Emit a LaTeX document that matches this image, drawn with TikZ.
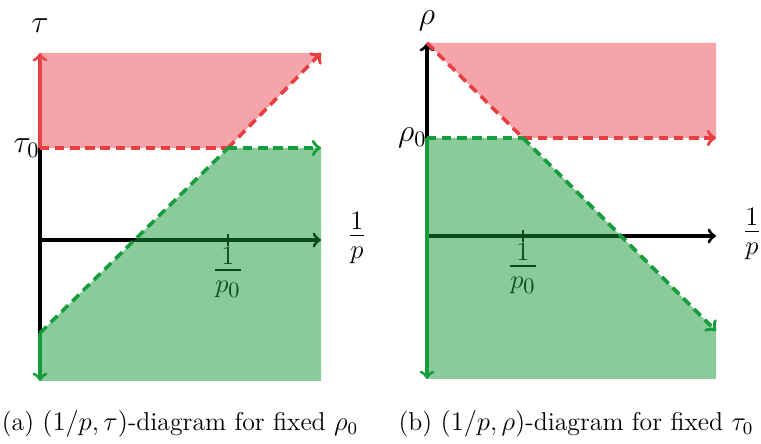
\documentclass[tikz,border=0pt]{standalone}
\usepackage{amsmath}

\definecolor{redline}{RGB}{232,62,66}
\definecolor{greenline}{RGB}{22,158,62}
\definecolor{redarea}{RGB}{235,76,86}
\definecolor{greenarea}{RGB}{23,151,55}

\tikzset{
  axis/.style={line width=1.4pt},
  bound/.style={line width=1.6pt,dash pattern=on 4.2pt off 2.6pt},
  region/.style={fill opacity=0.5},
  lbl/.style={inner sep=0pt,font=\Large},
  frac/.style={inner sep=0pt,font=\LARGE},
}

\begin{document}
\begin{tikzpicture}[x=0.45pt,y=0.45pt,>=to]
\useasboundingbox (0,0) rectangle (761,444);

% (a) tau against 1/p
\coordinate (aO) at (40,204);
\coordinate (aT) at (40,391);
\coordinate (aT0) at (40,296);
\coordinate (aB0) at (40,111);
\coordinate (aB) at (40,63);
\coordinate (aK) at (228,296);
\coordinate (aX) at (321,204);
\coordinate (aTR) at (321,391);
\coordinate (aMR) at (321,296);
\coordinate (aBR) at (321,63);
\coordinate (aTick) at (228,204);

\node[lbl] (tau) at (40,418) {$\tau$};
\node[lbl,anchor=east] (tau0) at (aT0) {$\tau_0$};
\node[frac] (ainv) at (357,206) {$\frac{1}{p}$};
\node[frac,anchor=north] (ap0) at ([yshift=-3pt]aTick) {$\frac{1}{p_0}$};

\draw[axis,->] (aO) -- (aX);
\draw[axis] (aT0) -- (aB0);
\draw[axis,redline,->] (aT0) -- (aT);
\draw[axis,greenline,->] (aB0) -- (aB);
\draw[line width=0.8pt] (aTick) ++(0,6) -- ++(0,-12);

\fill[redarea,region] (aT) -- (aTR) -- (aK) -- (aT0) -- cycle;
\fill[greenarea,region] (aB0) -- (aK) -- (aMR) -- (aBR) -- (aB) -- cycle;

\draw[bound,redline] (aT0) -- (aK);
\draw[bound,redline,->] (aK) -- (aTR);
\draw[bound,greenline] (aB0) -- (aK);
\draw[bound,greenline,->] (aK) -- (aMR);

% (b) rho against 1/p
\coordinate (bO) at (427,208);
\coordinate (bT) at (427,401);
\coordinate (bR0) at (427,306);
\coordinate (bB) at (427,65);
\coordinate (bK) at (523,306);
\coordinate (bX) at (716,208);
\coordinate (bTR) at (716,401);
\coordinate (bMR) at (716,306);
\coordinate (bLR) at (716,113);
\coordinate (bBR) at (716,65);
\coordinate (bTick) at (523,208);

\node[lbl] (rho) at (427,423) {$\rho$};
\node[lbl,anchor=east] (rho0) at (bR0) {$\rho_0$};
\node[frac] (binv) at (752,210) {$\frac{1}{p}$};
\node[frac,anchor=north] (bp0) at ([yshift=-3pt]bTick) {$\frac{1}{p_0}$};

\draw[axis,->] (bO) -- (bX);
\draw[axis,->] (bR0) -- (bT);
\draw[axis,greenline,->] (bR0) -- (bB);
\draw[line width=0.8pt] (bTick) ++(0,6) -- ++(0,-12);

\fill[redarea,region] (bT) -- (bTR) -- (bMR) -- (bK) -- cycle;
\fill[greenarea,region] (bR0) -- (bK) -- (bLR) -- (bBR) -- (bB) -- cycle;

\draw[bound,redline] (bT) -- (bK);
\draw[bound,redline,->] (bK) -- (bMR);
\draw[bound,greenline] (bR0) -- (bK);
\draw[bound,greenline,->] (bK) -- (bLR);

% captions
\node[font=\fontsize{11.6}{14}\selectfont] (capa) at (180,20) {(a) $(1/p,\tau)$-diagram for fixed $\rho_0$};
\node[font=\fontsize{11.6}{14}\selectfont] (capb) at (576,20) {(b) $(1/p,\rho)$-diagram for fixed $\tau_0$};
\end{tikzpicture}
\end{document}
